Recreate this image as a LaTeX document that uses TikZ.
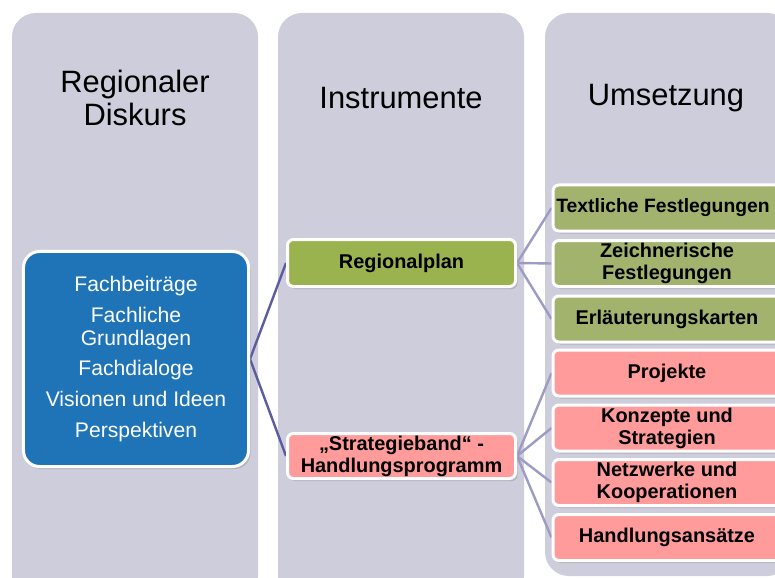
\documentclass[tikz,border=0pt]{standalone}
\usepackage{fontspec}
\setmainfont{Liberation Sans}
\usetikzlibrary{shadows}
\definecolor{colbg}{HTML}{CDCDDB}
\definecolor{bluebox}{HTML}{1F74B8}
\definecolor{greenA}{HTML}{9BB34F}
\definecolor{greenB}{HTML}{A2B36E}
\definecolor{pinkbox}{HTML}{FF9B9B}
\definecolor{lineA}{HTML}{5C5CA0}
\definecolor{lineB}{HTML}{9C9CC4}
\pgfdeclarelayer{back}
\pgfdeclarelayer{mid}
\pgfsetlayers{back,mid,main}
\tikzset{
  column/.style={fill=colbg, rounded corners=24bp},
  heading/.style={font=\fontsize{31}{33}\selectfont, align=center, text=black},
  boxbase/.style={draw=white, line width=3bp, rounded corners=6bp, align=center,
    drop shadow={opacity=0.35, shadow xshift=2bp, shadow yshift=-2.5bp}},
  instbox/.style={boxbase, minimum width=228bp, minimum height=47bp,
    font=\bfseries\fontsize{20}{22}\selectfont, inner sep=0pt},
  umsbox/.style={boxbase, minimum width=228bp, minimum height=46bp,
    font=\bfseries\fontsize{20}{22}\selectfont, inner sep=0pt},
  conA/.style={draw=lineA, line width=2.4bp},
  conB/.style={draw=lineB, line width=2.4bp},
}
\begin{document}
\begin{tikzpicture}[x=1bp, y=-1bp]
\useasboundingbox (0,0) rectangle (775,578);
\clip (0,0) rectangle (775,578);
\begin{pgfonlayer}{back}
\fill[white] (0,0) rectangle (775,578);
\fill[column] (12,13) rectangle (258,600);
\fill[column] (278,13) rectangle (524,600);
\fill[column] (545,13) rectangle (791,576);
\end{pgfonlayer}
% headings
\node[heading] (h1) at (135,98) {Regionaler\\Diskurs};
\node[heading] (h2) at (401,98) {Instrumente};
\node[heading] (h3) at (666,98) {Umsetzung};
% boxes
\node[boxbase, fill=bluebox, rounded corners=16bp, minimum width=225bp, minimum height=215bp,
  text=white, font=\fontsize{21.2}{23}\selectfont] (disk) at (136,359)
  {Fachbeiträge\\[8bp]Fachliche\\Grundlagen\\[8bp]Fachdialoge\\[8bp]Visionen und Ideen\\[8bp]Perspektiven};
\node[instbox, fill=greenA] (rp) at (401.5,263) {Regionalplan};
\node[instbox, fill=pinkbox, minimum height=45bp] (sb) at (401.5,456) {„Strategieband“ -\\Handlungsprogramm};
\node[umsbox, fill=greenB, font=\bfseries\fontsize{19.4}{22}\selectfont] (u1) at (667,208) {Textliche Festlegungen\hspace*{8bp}};
\node[umsbox, fill=greenB] (u2) at (667,263.5) {Zeichnerische\\Festlegungen};
\node[umsbox, fill=greenB] (u3) at (667,319) {Erläuterungskarten};
\node[umsbox, fill=pinkbox] (u4) at (667,373) {Projekte};
\node[umsbox, fill=pinkbox] (u5) at (667,428) {Konzepte und\\Strategien};
\node[umsbox, fill=pinkbox] (u6) at (667,482.5) {Netzwerke und\\Kooperationen};
\node[umsbox, fill=pinkbox] (u7) at (667,537.5) {Handlungsansätze};
% connectors (behind boxes)
\begin{pgfonlayer}{mid}
\draw[conA] (disk.east) -- (rp.west);
\draw[conA] (disk.east) -- (sb.west);
\foreach \t in {u1,u2,u3}{\draw[conB] (rp.east) -- (\t.west);}
\foreach \t in {u4,u5,u6,u7}{\draw[conB] (sb.east) -- (\t.west);}
\end{pgfonlayer}
\end{tikzpicture}
\end{document}
